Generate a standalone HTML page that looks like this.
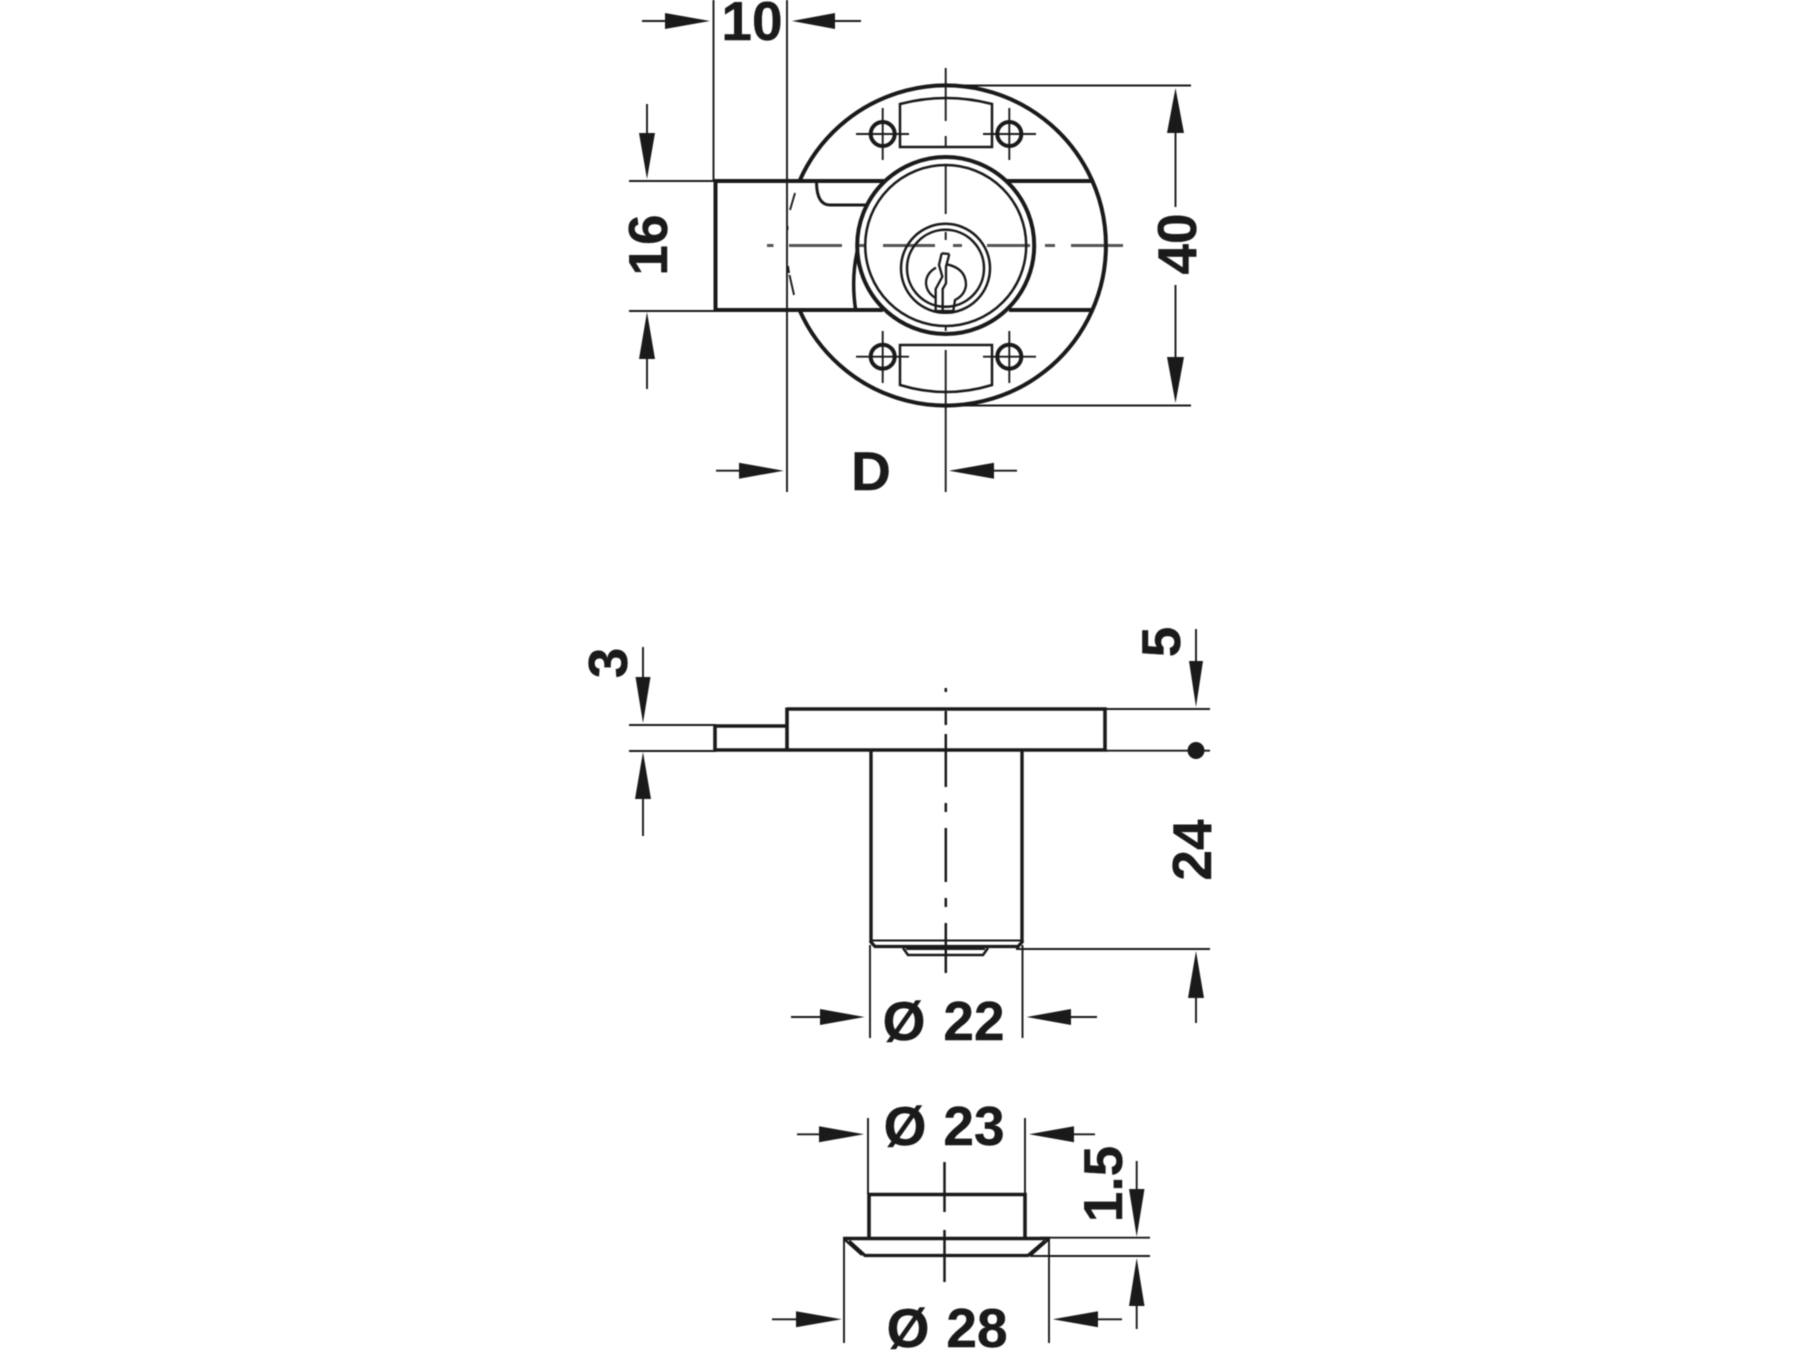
<!DOCTYPE html>
<html lang="en">
<head>
<meta charset="utf-8">
<title>Lock dimensions</title>
<style>
html,body{margin:0;padding:0;background:#fff;width:1800px;height:1350px;overflow:hidden}
svg{display:block;filter:blur(.6px)}
text{font-family:"Liberation Sans",Arial,sans-serif;font-weight:700;font-size:55px;fill:#1a1a1a;stroke:#1a1a1a;stroke-width:.4px}
.k{stroke:#1a1a1a;fill:none;stroke-linecap:butt}
.t{stroke-width:1.9}
.m{stroke-width:2.5}
.b{stroke-width:4}
polygon{fill:#1a1a1a}
</style>
</head>
<body>
<svg width="1800" height="1350" viewBox="0 0 1800 1350" xmlns="http://www.w3.org/2000/svg">
<rect width="1800" height="1350" fill="#fff"/>

<!-- TOP VIEW -->
<path class="k t" d="M713.500 0V181M787 0V492M945.700 68V121M945.700 136V147M945.700 165V214M945.700 232V240M945.700 326V331M945.700 350V492"/>
<path class="k" style="stroke:#555;stroke-width:3" d="M767 245.500H773.500M789 245.500H842M858 245.500H866M883 245.500H935M953 245.500H962M987 245.500H1030M1045 245.500H1055M1071 245.500H1123"/>
<path class="k t" d="M629 181H714M629 311H714M945 85.500H1191M945 405.500H1191"/>
<!-- plate -->
<path class="k b" d="M799.500 181A160 160 0 1 1 799.500 310"/>
<path class="k b" d="M715.500 181V311M714 181H884M1007 181H1091M714 310H883M1009 310H1091"/>
<!-- collar -->
<circle class="k b" cx="945.700" cy="245.500" r="88.500"/>
<circle class="k m" cx="945.700" cy="245.500" r="80.500"/>
<!-- key cylinder -->
<circle class="k m" cx="945.500" cy="268.300" r="44.500"/>
<circle class="k m" cx="945.500" cy="268.300" r="38.500"/>
<!-- keyway -->
<g transform="translate(890 215) scale(.3333)" class="k" style="stroke-width:7">
<path d="M138 158Q108 175 108 205Q110 232 135 248"/>
<path d="M170 148Q228 160 228 210Q225 240 195 255L190 288"/>
<path d="M155 115L147 150L157 185L137 222V288M178 117L168 155V205L158 222V288M135 288H190M155 115L178 117"/>
</g>
<!-- lip and internal details -->
<path class="k" style="stroke-width:3" d="M816.500 183Q817 205 830 205H868"/>
<path class="k" style="stroke-width:3.500" d="M857.500 250Q851 278 855.500 309"/>
<path class="k t" d="M795 193L790 210M787.500 226V230M788 266L789 273M789.500 275L794 295"/>
<!-- slots -->
<path class="k m" d="M900 147V104Q946 92 992 104V147Z"/>
<path class="k m" d="M900 345H992V385Q946 399 900 385Z"/>
<!-- screws -->
<g class="k">
<circle class="b" cx="882.700" cy="134" r="12"/><circle class="b" cx="1009.300" cy="134" r="12"/>
<circle class="b" cx="882.700" cy="356.700" r="12"/><circle class="b" cx="1009.300" cy="356.700" r="12"/>
<path class="t" d="M856 134H909M983 134H1036M882.700 108V160M1009.300 108V160M856 356.700H909M983 356.700H1036M882.700 331V383M1009.300 331V383"/>
</g>

<!-- top dims -->
<path class="k t" d="M642 21H668M834 21H861M647 104V135M647 356V389M1175.500 133V207M1175.500 285V358M716 470.700H742M992 470.700H1017"/>
<polygon points="710,21 665,13 665,29"/>
<polygon points="792,21 835,13 835,29"/>
<polygon points="647,179 639,133 655,133"/>
<polygon points="647,312 639,359 655,359"/>
<polygon points="1175.500,88 1167,133 1184,133"/>
<polygon points="1175.500,403 1167,357 1184,357"/>
<polygon points="783.700,470.700 739,462.700 739,478.700"/>
<polygon points="949,470.700 994,462.700 994,478.700"/>
<text x="752" y="40" text-anchor="middle">10</text>
<text x="871" y="490" text-anchor="middle">D</text>
<text transform="translate(667 245) rotate(-90)" text-anchor="middle">16</text>
<text transform="translate(1196 244) rotate(-90)" text-anchor="middle">40</text>

<!-- SIDE VIEW -->
<path class="k t" d="M629 725H716M629 751H716M1105 709H1210M1105 750.700H1210M1016 949H1210M870 945V1038M1022.500 945V1038"/>
<path class="k" style="stroke-width:3.600" d="M787 709H1105V750H715V726H787M787 707.500V750M1105 707.500V750"/>
<path class="k" style="stroke-width:3.400" d="M871 750V942M1022 750V942"/>
<path class="k t" d="M872 940.500H1021"/>
<path class="k" style="stroke-width:3.200" d="M870 941L875 946.500H1018L1023 941"/>
<path class="k m" d="M903 948L908 955H983L988 948"/>
<path class="k t" d="M906 949H985"/>
<path class="k m" d="M945.800 688V692M945.800 711V725M945.800 734V787M945.800 803V812M945.800 828V882M945.800 898V907M945.800 923V973"/>
<circle cx="1196" cy="750.500" r="8.500" fill="#1a1a1a"/>
<!-- side dims -->
<path class="k t" d="M643 647V680M643 796V836M1196 629V664M1196 995V1023M791 1017H823M1068 1017H1097"/>
<polygon points="643,723 635.500,677 650.500,677"/>
<polygon points="643,752 635,799 651,799"/>
<polygon points="1196,707 1189,661 1203,661"/>
<polygon points="1196,951 1188,998 1204,998"/>
<polygon points="864.600,1017 820,1009 820,1025"/>
<polygon points="1026.600,1017 1071,1009 1071,1025"/>
<text transform="translate(627 663) rotate(-90)" text-anchor="middle">3</text>
<text transform="translate(1180 642) rotate(-90)" text-anchor="middle">5</text>
<text transform="translate(1211 850) rotate(-90)" text-anchor="middle">24</text>
<text x="904" y="1040" text-anchor="middle">Ø</text>
<text x="974" y="1040" text-anchor="middle">22</text>

<!-- BOTTOM PART -->
<path class="k t" d="M868 1118V1194M1025 1118V1194M844 1240V1343M1049 1240V1343M1040 1237.700H1150M1030 1256H1150"/>
<path class="k" style="stroke-width:3.600" d="M869 1238V1194.500H1025V1238M843 1238.500H1050"/>
<path class="k" style="stroke-width:3.200" d="M849 1241L865 1255.500H1028L1045 1241"/>
<path class="k m" d="M844 1239L862 1255M1049 1239L1031 1255"/>
<path class="k m" d="M944.500 1162V1212M944.500 1230V1282"/>
<path class="k t" d="M797 1134.300H822M1072 1134.300H1095M1136.700 1161V1192M1136.700 1304V1329M772 1319.300H798M1096 1319.300H1122"/>
<polygon points="864,1134.300 819,1126.300 819,1142.300"/>
<polygon points="1029,1134.300 1074,1126.300 1074,1142.300"/>
<polygon points="1136.700,1236.700 1129,1189 1144.500,1189"/>
<polygon points="1136.700,1258 1129,1306 1144.500,1306"/>
<polygon points="841.700,1319.300 796,1311.300 796,1327.300"/>
<polygon points="1052.700,1319.300 1098,1311.300 1098,1327.300"/>
<text x="905" y="1145" text-anchor="middle">Ø</text>
<text x="974" y="1145" text-anchor="middle">23</text>
<text x="908" y="1347" text-anchor="middle">Ø</text>
<text x="977" y="1347" text-anchor="middle">28</text>
<text transform="translate(1122 1184) rotate(-90)" text-anchor="middle">1.5</text>
</svg>
</body>
</html>
